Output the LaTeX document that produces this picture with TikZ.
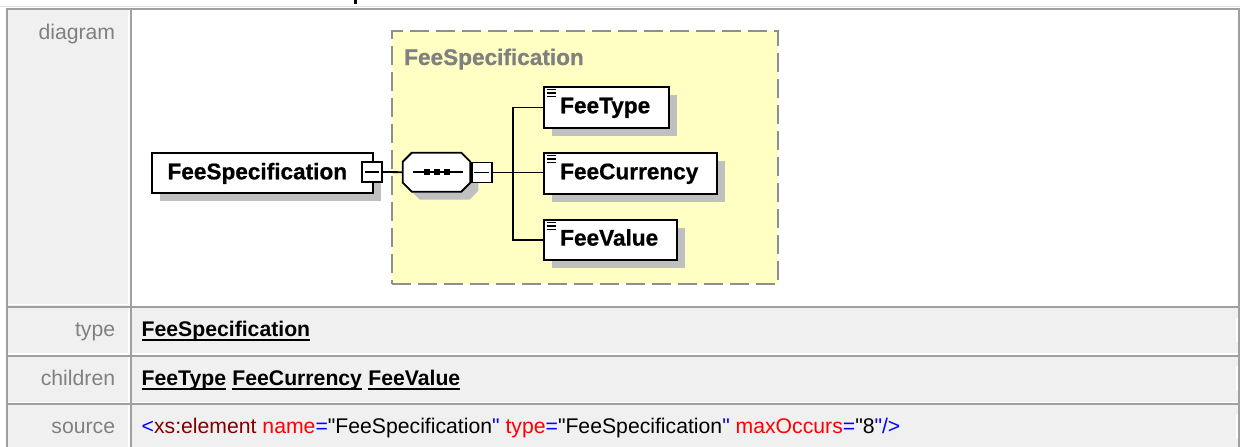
\documentclass[tikz,border=0pt]{standalone}
\usepackage{fontspec}
\setmainfont{Liberation Sans}
\newfontfamily\srcfont{Liberation Sans}
\newfontfamily\diafontfam{Liberation Sans Bold}[FakeBold=0.8]
\usetikzlibrary{calc,shadows}
\definecolor{framegray}{HTML}{A0A0A0}
\definecolor{lightline}{HTML}{E0E0E0}
\definecolor{cellbg}{HTML}{F0F0F0}
\definecolor{labelgray}{HTML}{808080}
\definecolor{shadowgray}{HTML}{C0C0C0}
\definecolor{groupfill}{HTML}{FFFFC4}
\definecolor{groupline}{HTML}{8F8F8F}
\definecolor{xblue}{HTML}{0000FF}
\definecolor{xdred}{HTML}{800000}
\definecolor{xred}{HTML}{FF0000}
\newcommand\mytabfont{\fontsize{21.2}{25}\selectfont}
\newcommand\mydiafont{\diafontfam\fontsize{22.6}{26}\selectfont}
\begin{document}
\begin{tikzpicture}[x=1pt,y=-1pt,
  elembox/.style={draw=black, line width=1.9pt, fill=white, inner sep=0pt, anchor=north west,
    general shadow={fill=shadowgray, shadow xshift=8pt, shadow yshift=-8pt}},
  minusbox/.style={draw=black, line width=1.8pt, fill=white, minimum width=20pt, minimum height=20pt, inner sep=0pt},
  minusline/.style={draw=black, line width=1.6pt},
  conn/.style={draw=black, line width=1.8pt},
  etext/.style={inner sep=0pt, anchor=base west, font=\mydiafont},
  grptext/.style={inner sep=0pt, anchor=base west, font=\mydiafont, text=labelgray},
  rowlabel/.style={inner sep=0pt, anchor=base east, font=\mytabfont, text=labelgray},
  rowvalue/.style={inner sep=0pt, anchor=base west, font=\mytabfont\bfseries, text=black},
  srcvalue/.style={inner sep=0pt, anchor=base west, font=\srcfont\mytabfont, text=black},
  uline/.style={draw=black, line width=1.8pt},
  iconline/.style={draw=black, line width=1.2pt},
  groupbox/.style={draw=groupline, fill=groupfill, line width=2pt, dash pattern=on 19pt off 7pt,
    inner sep=0pt, anchor=north west},
  frameline/.style={draw=framegray, line width=1.8pt},
  whiteline/.style={draw=white, line width=1.3pt}
]
\useasboundingbox (0,0) rectangle (1240,447);
% ---------- table background ----------
\fill[white] (0,0) rectangle (1240,447);
\draw[lightline, line width=1.5pt] (0,6.5) -- (1240,6.5);
\fill[black] (353.5,0) rectangle (357,4.3);
\fill[cellbg] (7.5,10) rectangle (129,447);
\fill[cellbg] (131.5,307.5) rectangle (1238,447);
% white inner borders
\draw[whiteline] (128.6,10) -- (128.6,447);
\draw[whiteline] (7.5,304.6) -- (1238,304.6);
\draw[whiteline] (7.5,353.9) -- (1238,353.9);
\draw[whiteline] (7.5,402.4) -- (1238,402.4);
\draw[white, line width=1.4pt] (1236.8,318) -- (1236.8,342);
\draw[white, line width=1.4pt] (1236.8,366) -- (1236.8,390.5);
\draw[white, line width=1.4pt] (1236.8,415) -- (1236.8,439);
% dark frame lines
\draw[frameline] (6,9.2) -- (1240,9.2);
\draw[frameline] (6.8,9) -- (6.8,447);
\draw[frameline] (130.8,9) -- (130.8,447);
\draw[frameline] (1239.1,9) -- (1239.1,447);
\draw[frameline] (6,306.6) -- (1240,306.6);
\draw[frameline] (6,356) -- (1240,356);
\draw[frameline] (6,404.3) -- (1240,404.3);
% ---------- row labels ----------
\node[rowlabel] (lbldiagram) at (115.3,39.5) {diagram};
\node[rowlabel] (lbltype) at (115.3,336.5) {type};
\node[rowlabel] (lblchildren) at (115.3,385.5) {children};
\node[rowlabel] (lblsource) at (115.3,433.8) {source};
% ---------- row values ----------
\node[rowvalue] (vtype) at (141.5,336.5) {FeeSpecification};
\draw[uline] ($(vtype.base west)+(0,3.6)$) -- ($(vtype.base east)+(0,3.6)$);
\node[rowvalue] (vch1) at (141.5,385.5) {FeeType};
\node[rowvalue] (vch2) at ($(vch1.base east)+(5.9,0)$) {FeeCurrency};
\node[rowvalue] (vch3) at ($(vch2.base east)+(5.9,0)$) {FeeValue};
\draw[uline] ($(vch1.base west)+(0,3.6)$) -- ($(vch1.base east)+(0,3.6)$);
\draw[uline] ($(vch2.base west)+(0,3.6)$) -- ($(vch2.base east)+(0,3.6)$);
\draw[uline] ($(vch3.base west)+(0,3.6)$) -- ($(vch3.base east)+(0,3.6)$);
\node[srcvalue] (vsource) at (141.5,433.8) {{\color{xblue}<}{\color{xdred}xs:element} {\color{xred}name}{\color{xblue}=}"FeeSpecification{\color{xblue}"} {\color{xred}type}{\color{xblue}=}"FeeSpecification{\color{xblue}"} {\color{xred}maxOccurs}{\color{xblue}=}"8{\color{xblue}"/>}};
% ---------- diagram ----------
\node[groupbox, minimum width=386pt, minimum height=253pt] (grp) at (391,30) {};
\node[grptext] (grptitle) at (404,65) {FeeSpecification};
% root element
\node[elembox, minimum width=221pt, minimum height=40pt] (root) at (151,152) {};
\node[etext] (roottext) at (167.3,179.3) {FeeSpecification};
\node[minusbox] (rootm) at (372,172) {};
\draw[minusline] ($(rootm.west)+(3.5,0)$) -- ($(rootm.east)+(-3.5,0)$);
% sequence compositor
\begin{scope}[shift={(8,8)}]
\fill[shadowgray] (411.8,152.7) -- (461.3,152.7) -- (470.3,161.7) -- (470.3,182.7) -- (461.3,191.7) -- (411.8,191.7) -- (402.8,182.7) -- (402.8,161.7) -- cycle;
\end{scope}
\draw[draw=black, line width=1.8pt, fill=white] (411.8,152.7) -- (461.3,152.7) -- (470.3,161.7) -- (470.3,182.7) -- (461.3,191.7) -- (411.8,191.7) -- (402.8,182.7) -- (402.8,161.7) -- cycle;
\node[draw=none, inner sep=0pt, minimum width=67.5pt, minimum height=39pt] (seq) at (436.55,172.2) {};
\draw[conn] ($(seq.west)+(10,0)$) -- ($(seq.east)+(-8,0)$);
\fill[black] (423.6,169.2) rectangle (429.6,175.2);
\fill[black] (434,169.2) rectangle (440,175.2);
\fill[black] (444.4,169.2) rectangle (450.4,175.2);
\node[minusbox] (seqm) at (481.7,172.5) {};
\draw[minusline] ($(seqm.west)+(3.5,0)$) -- ($(seqm.east)+(-3.5,0)$);
\draw[conn] (rootm.east) -- (seq.west);
% child elements
\node[elembox, minimum width=125pt, minimum height=41pt] (c1) at (543,86) {};
\node[elembox, minimum width=173pt, minimum height=41pt] (c2) at (543,152) {};
\node[elembox, minimum width=133pt, minimum height=40pt] (c3) at (543,219) {};
\node[etext] (c1text) at (560,113.3) {FeeType};
\node[etext] (c2text) at (560,179.3) {FeeCurrency};
\node[etext] (c3text) at (560,245.6) {FeeValue};
\foreach \c in {c1,c2,c3}{
  \draw[iconline] ($(\c.north west)+(3.5,3.5)$) -- ++(9,0);
  \draw[iconline] ($(\c.north west)+(3.5,7)$) -- ++(9,0);
  \draw[iconline] ($(\c.north west)+(3.5,10.5)$) -- ++(9,0);
}
% connectors
\coordinate (jt) at (513,172.4);
\draw[conn] (seqm.east) -- (seqm.east -| c2.west);
\draw[conn] (c1.west) -| (jt) |- (c3.west);
\end{tikzpicture}
\end{document}
